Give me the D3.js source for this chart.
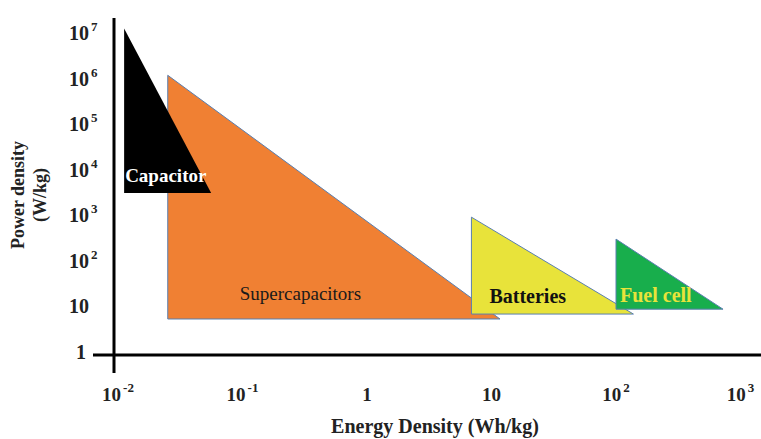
<!DOCTYPE html>
<html lang="en">
<head>
    <meta charset="UTF-8">
    <title>Ragone plot</title>
    <style>
        body { margin: 0; padding: 0; background: #fff; }
        svg { display: block; }
        text { font-family: "Liberation Serif", "Times New Roman", serif; }
    </style>
</head>
<body>
    <svg id="chart"></svg>

    <script src="https://d3js.org/d3.v7.min.js"></script>
    <script>
        // devices: [energy min, energy max] Wh/kg and [power min, power max] W/kg
        const devices = ['Capacitor', 'Supercapacitors', 'Batteries', 'Fuel cell'];
        const energyMin = [0.0112, 0.0251, 6.9, 100];
        const energyMax = [0.056, 11.7, 138, 724];
        const powerMin = [3100, 5.3, 6.8, 8.7];
        const powerMax = [12500000, 1180000, 910, 300];
        const fills = ['#000000', '#f08033', '#e8e33a', '#18ae4c'];
        const xTicks = [1e-2, 1e-1, 1, 10, 1e2, 1e3];
        const yTicks = [1, 10, 1e2, 1e3, 1e4, 1e5, 1e6, 1e7];

        const width = 761, height = 439;
        const svg = d3.select('#chart').attr('width', width).attr('height', height);

        const x = d3.scaleLog().domain([1e-2, 1e3]).range([118, 740.5]);
        const y = d3.scaleLog().domain([1, 1e7]).range([352, 33]);

        // draw order: supercaps under capacitor, then batteries, fuel cell
        const order = [1, 0, 2, 3];
        svg.selectAll('path.tri')
            .data(order)
            .enter()
            .append('path')
            .attr('class', 'tri')
            .attr('d', i => {
                const x0 = x(energyMin[i]), x1 = x(energyMax[i]);
                const yTop = y(powerMax[i]), yBot = y(powerMin[i]);
                return `M${x0},${yTop}L${x0},${yBot}L${x1},${yBot}Z`;
            })
            .attr('fill', i => fills[i])
            .attr('stroke', i => i === 0 ? 'none' : '#5a7fb0')
            .attr('stroke-width', 1);

        // labels inside the triangles
        const lbl = [
            { i: 0, dx: 1, dy: -11, size: 19, weight: 'bold', color: '#fff' },
            { i: 1, dx: 72, dy: -19, size: 19, weight: 'normal', color: '#1a1a1a' },
            { i: 2, dx: 18, dy: -11, size: 20, weight: 'bold', color: '#111' },
            { i: 3, dx: 4, dy: -7, size: 20, weight: 'bold', color: '#e8e33a' }
        ];
        svg.selectAll('text.dev')
            .data(lbl)
            .enter()
            .append('text')
            .attr('class', 'dev')
            .attr('x', d => x(energyMin[d.i]) + d.dx)
            .attr('y', d => y(powerMin[d.i]) + d.dy)
            .attr('font-size', d => d.size)
            .attr('font-weight', d => d.weight)
            .attr('fill', d => d.color)
            .text(d => devices[d.i]);

        // axis lines
        svg.append('line').attr('x1', 114).attr('x2', 114).attr('y1', 18).attr('y2', 373)
            .attr('stroke', '#000').attr('stroke-width', 3);
        svg.append('line').attr('x1', 93).attr('x2', 761).attr('y1', 355).attr('y2', 355)
            .attr('stroke', '#000').attr('stroke-width', 3);

        function tickLabel(sel, v) {
            const e = Math.round(Math.log10(v));
            if (e === 0) { sel.text('1'); return; }
            if (e === 1) { sel.text('10'); return; }
            sel.append('tspan').text('10');
            sel.append('tspan').attr('dx', 2).attr('dy', -9).attr('font-size', 13).text(e);
        }

        svg.selectAll('text.ytick')
            .data(yTicks)
            .enter()
            .append('text')
            .attr('class', 'ytick')
            .attr('x', d => d < 10 ? 76 : 69)
            .attr('y', d => y(d) + 7)
            .attr('font-size', 20)
            .attr('font-weight', 'bold')
            .attr('fill', '#222')
            .each(function (d) { tickLabel(d3.select(this), d); });

        svg.selectAll('text.xtick')
            .data(xTicks)
            .enter()
            .append('text')
            .attr('class', 'xtick')
            .attr('x', d => x(d))
            .attr('y', 401)
            .attr('text-anchor', 'middle')
            .attr('font-size', 19)
            .attr('font-weight', 'bold')
            .attr('fill', '#222')
            .each(function (d) { tickLabel(d3.select(this), d); });

        // axis titles
        svg.append('text')
            .attr('x', 435).attr('y', 433)
            .attr('text-anchor', 'middle')
            .attr('font-size', 20).attr('font-weight', 'bold').attr('fill', '#222')
            .text('Energy Density (Wh/kg)');

        const yt = svg.append('text')
            .attr('transform', 'translate(24,195) rotate(-90)')
            .attr('text-anchor', 'middle')
            .attr('font-size', 18).attr('font-weight', 'bold').attr('fill', '#222');
        yt.append('tspan').attr('x', 0).attr('y', 0).text('Power density');
        yt.append('tspan').attr('x', 0).attr('y', 22).text('(W/kg)');
    </script>
</body>
</html>
